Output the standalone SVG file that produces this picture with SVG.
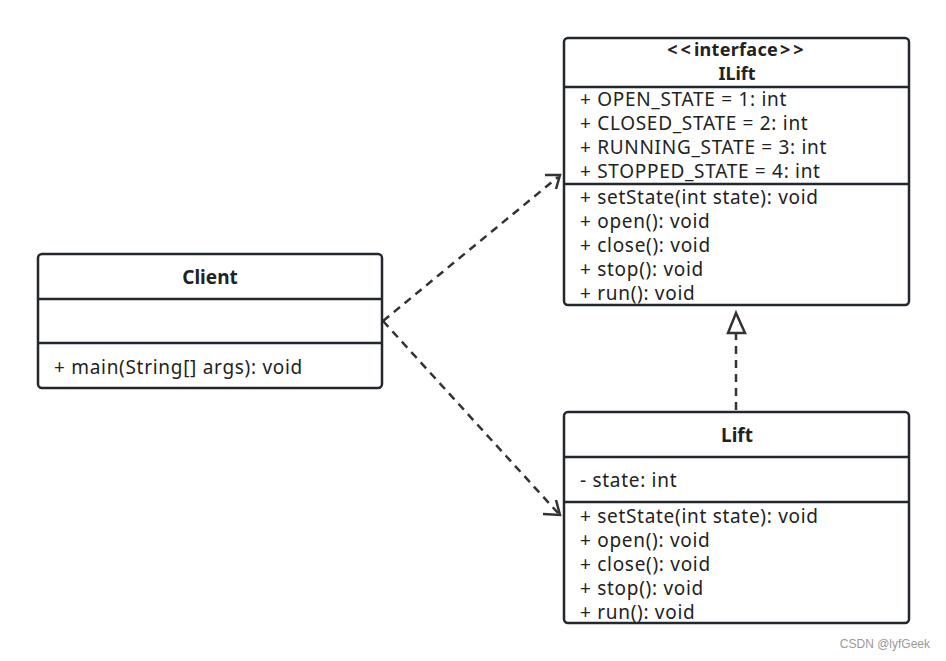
<svg xmlns="http://www.w3.org/2000/svg" width="946" height="661" viewBox="0 0 946 661">
<style>
.box{fill:#fff;stroke:#23272e;stroke-width:2.5}
.div{stroke:#23272e;stroke-width:2.5}
.t{font-family:"Noto Sans","Open Sans",sans-serif;font-size:19px;letter-spacing:0.7px;fill:#222}
.b{font-family:"Noto Sans","Open Sans",sans-serif;font-size:19px;font-weight:bold;fill:#222;text-anchor:middle}
.hd{font-size:18px}
.c{fill:none;stroke:#333;stroke-width:2.5;stroke-dasharray:8 6}
.h{fill:none;stroke:#333;stroke-width:2.5}
</style>
<rect width="946" height="661" fill="#fff"/>
<g id="connectors">
<line class="c" x1="383" y1="321" x2="558" y2="177"/>
<polyline class="h" points="545,175 560,175 556,189"/>
<line class="c" x1="383" y1="321" x2="558" y2="513"/>
<polyline class="h" points="543,514 560,515 556,500"/>
<line class="c" x1="736" y1="410" x2="736" y2="334"/>
<polygon class="h" points="736,313 728,333 745,333"/>
</g>
<g id="ILift">
<rect class="box" x="564" y="38" width="345" height="267" rx="4"/>
<line class="div" x1="564" y1="87" x2="909" y2="87"/>
<line class="div" x1="564" y1="184" x2="909" y2="184"/>
<text class="b hd" x="737" y="56"><tspan letter-spacing="3">&lt;&lt;</tspan><tspan letter-spacing="0.3">interface</tspan><tspan dx="2" letter-spacing="3">&gt;&gt;</tspan></text>
<text class="b hd" x="737" y="80">ILift</text>
<text class="t" x="580" y="106">+ OPEN_STATE = 1: int</text>
<text class="t" x="580" y="130">+ CLOSED_STATE = 2: int</text>
<text class="t" x="580" y="154">+ RUNNING_STATE = 3: int</text>
<text class="t" x="580" y="178">+ STOPPED_STATE = 4: int</text>
<text class="t" x="580" y="204">+ setState(int state): void</text>
<text class="t" x="580" y="228">+ open(): void</text>
<text class="t" x="580" y="252">+ close(): void</text>
<text class="t" x="580" y="276">+ stop(): void</text>
<text class="t" x="580" y="300">+ run(): void</text>
</g>
<g id="Client">
<rect class="box" x="38" y="254" width="344" height="134" rx="4"/>
<line class="div" x1="38" y1="299" x2="382" y2="299"/>
<line class="div" x1="38" y1="343" x2="382" y2="343"/>
<text class="b" x="210" y="284">Client</text>
<text class="t" x="54" y="374">+ main(String[] args): void</text>
</g>
<g id="Lift">
<rect class="box" x="564" y="412" width="345" height="211" rx="4"/>
<line class="div" x1="564" y1="457" x2="909" y2="457"/>
<line class="div" x1="564" y1="502" x2="909" y2="502"/>
<text class="b" x="737" y="442">Lift</text>
<text class="t" x="580" y="487">- state: int</text>
<text class="t" x="580" y="523">+ setState(int state): void</text>
<text class="t" x="580" y="547">+ open(): void</text>
<text class="t" x="580" y="571">+ close(): void</text>
<text class="t" x="580" y="595">+ stop(): void</text>
<text class="t" x="580" y="619">+ run(): void</text>
</g>
<text x="930" y="648" text-anchor="end" style="font-family:'Liberation Sans',sans-serif;font-size:12px;fill:#999">CSDN @lyfGeek</text>
</svg>
